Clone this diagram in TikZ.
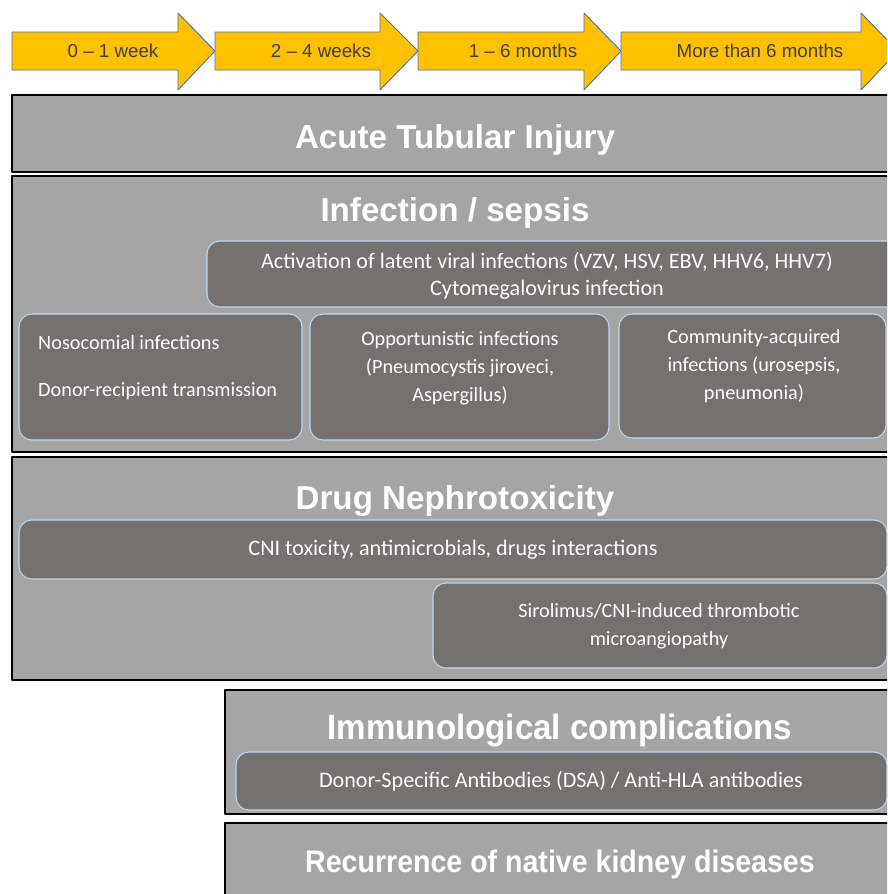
\documentclass[tikz,border=0pt]{standalone}
\usepackage{fontspec}
\setmainfont{Liberation Sans}
\newfontfamily\calibri{Carlito}
\definecolor{arrowyellow}{HTML}{FFC000}
\definecolor{arrowblue}{HTML}{4472C4}
\definecolor{panelgray}{HTML}{A5A5A5}
\definecolor{boxgray}{HTML}{757171}
\definecolor{boxedge}{HTML}{BDD7EE}
\definecolor{weektext}{HTML}{404040}

\begin{document}
\begin{tikzpicture}[x=0.03cm,y=-0.03cm,line join=round]
	\tikzset{every node/.style={inner sep=0pt}}
	\tikzset{timearrow/.style={fill=arrowyellow,draw=arrowblue,line width=0.8pt}}
	\tikzset{panel/.style={fill=panelgray,draw=black,line width=1.3pt}}
	\tikzset{subbox/.style={fill=boxgray,draw=boxedge,line width=0.9pt,rounded corners=11pt}}
	\tikzset{paneltitle/.style={text=white,font=\fontsize{28.3}{32}\selectfont\bfseries}}
	\tikzset{boxtext/.style={text=white,font=\calibri\fontsize{17.3}{24}\selectfont,align=center}}
	\tikzset{widetext/.style={text=white,font=\calibri\fontsize{18.9}{23}\selectfont,align=center}}
	\tikzset{weeklabel/.style={text=weektext,font=\fontsize{16}{18}\selectfont}}
	\useasboundingbox (0,0) rectangle (887,894);
	\clip (0,0) rectangle (887,894);
	% time line
	\foreach \xa/\xb/\xc in {12/178/215, 215/380/418, 418/584/621, 621/861/898}
		\draw[timearrow] (\xa,32)--(\xb,32)--(\xb,13)--(\xc,51)--(\xb,90)--(\xb,70)--(\xa,70)--cycle;
	\node[weeklabel] (week1) at (113,51) {0 -- 1 week};
	\node[weeklabel] (week2) at (321,51) {2 -- 4 weeks};
	\node[weeklabel] (month1) at (523,51) {1 -- 6 months};
	\node[weeklabel] (month6) at (760,51) {More than 6 months};
	% panels
	\draw[panel] (12,95) rectangle (895,172);
	\node[paneltitle] (ati) at (455,140) {Acute Tubular Injury};
	\draw[panel] (12,176) rectangle (895,452);
	\node[paneltitle] (sepsis) at (455,213) {Infection / sepsis};
	\draw[subbox] (207,241) rectangle (900,307);
	\node[widetext] (latent) at (547,276) {Activation of latent viral infections (VZV, HSV, EBV, HHV6, HHV7)\\Cytomegalovirus infection};
	\draw[subbox] (19,314) rectangle (302,440);
	\node[boxtext,anchor=west] (noso) at (38,343) {Nosocomial infections};
	\node[boxtext,anchor=west] (donor) at (38,391) {Donor-recipient transmission};
	\draw[subbox] (310,314) rectangle (609,440);
	\node[boxtext] (opport) at (460,368) {Opportunistic infections\\(Pneumocystis jiroveci,\\Aspergillus)};
	\draw[subbox] (619,314) rectangle (886,438);
	\node[boxtext] (commun) at (754,366) {Community-acquired\\infections (urosepsis,\\pneumonia)};
	\draw[panel] (12,457) rectangle (895,680);
	\node[paneltitle] (drug) at (455,501) {Drug Nephrotoxicity};
	\draw[subbox] (19,520) rectangle (887,579);
	\node[widetext] (cni) at (453,550) {CNI toxicity, antimicrobials, drugs interactions};
	\draw[subbox] (433,583) rectangle (887,668);
	\node[boxtext] (tma) at (659,626) {Sirolimus/CNI-induced thrombotic\\microangiopathy};
	\draw[panel] (225,690) rectangle (895,814);
	\node[paneltitle,font=\fontsize{30}{34}\selectfont\bfseries,xscale=0.94] (immuno) at (560,730) {Immunological complications};
	\draw[subbox] (236,752) rectangle (887,810);
	\node[widetext] (dsa) at (561,781) {Donor-Specific Antibodies (DSA) / Anti-HLA antibodies};
	\draw[panel] (225,823) rectangle (895,900);
	\node[paneltitle,font=\fontsize{26.5}{30}\selectfont\bfseries,xscale=0.92] (recur) at (560,864) {Recurrence of native kidney diseases};
\end{tikzpicture}
\end{document}
